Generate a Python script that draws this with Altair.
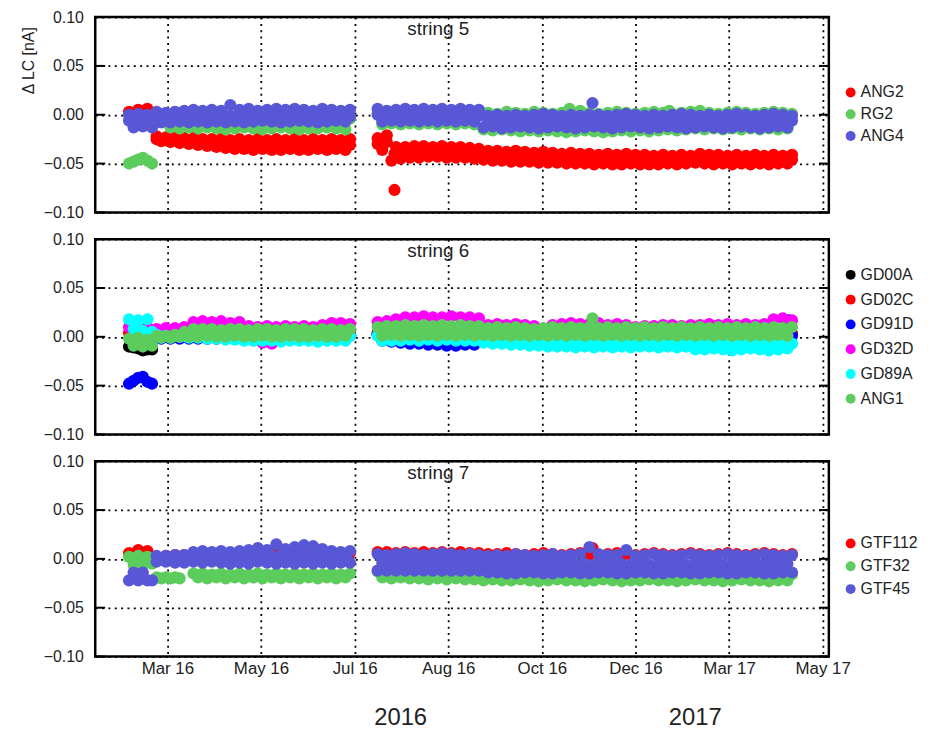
import altair as alt
import pandas as pd

FONT = "Liberation Sans"
TXT = "#222222"

# ---------------- axes ----------------
TICK_DAYS = [0, 61, 122, 183, 244, 305, 366, 427]          # days since 1 Mar 2016
TICK_LABELS = ["Mar 16", "May 16", "Jul 16", "Aug 16", "Oct 16", "Dec 16", "Mar 17", "May 17"]
X_DOMAIN = [-47, 431]
Y_TICKS = [-0.10, -0.05, 0.00, 0.05, 0.10]
Y_TITLE = "Δ LC [nA]"
YEAR_LABELS = ["2016", "2017"]
YEAR_DAYS = [152, 344]

# ---------------- sampling days (two staggered rows) ----------------
D_HI_A = [-25, -19, -13, -7, -1, 5, 11, 17, 23, 29, 35, 41, 47, 53, 59, 65, 71, 77, 83, 89, 95, 101, 107, 113, 119]
D_HI_B = [137, 143, 149, 155, 161, 167, 173, 179, 185, 191, 197, 203, 209, 215, 221, 227, 233, 239, 245, 251,
          257, 263, 269, 275, 281, 287, 293, 299, 305, 311, 317, 323, 329, 335, 341, 347, 353, 359, 365, 371,
          377, 383, 389, 395, 401, 407]
D_LO_A = [-22, -16, -10, -4, 2, 8, 14, 20, 26, 32, 38, 44, 50, 56, 62, 68, 74, 80, 86, 92, 98, 104, 110, 116]
D_LO_B = [140, 146, 152, 158, 164, 170, 176, 182, 188, 194, 200, 206, 212, 218, 224, 230, 236, 242, 248, 254,
          260, 266, 272, 278, 284, 290, 296, 302, 308, 314, 320, 326, 332, 338, 344, 350, 356, 362, 368, 374,
          380, 386, 392, 398, 404]

# ---------------- string 5 (values in 1e-3 nA) ----------------
S5_NAMES = ["ANG2", "RG2", "ANG4"]
S5_COLORS = ["#ff0000", "#5ccc5c", "#5858d6"]

ANG2_HI_A = [3, 5, 6, -22, -23, -23, -24, -24, -25, -25, -25, -26, -25, -26, -25, -26, -25, -26, -25, -26,
             -25, -26, -25, -26, -25]
ANG2_HI_B = [-24, -21, -33, -33, -32, -32, -33, -32, -33, -33, -34, -35,
             -37, -37, -38, -37, -38, -39, -38, -39, -40, -39,
             -40, -40, -41, -40, -41, -40, -41, -41, -42, -41,
             -42, -41, -42, -40, -41, -41, -42, -41, -42, -41,
             -42, -41, -42, -41]
ANG2_MID_A = [None, None, None, -25, -26, -26, -27, -28, -29, -30, -30, -31, -31, -31, -31, -31, -31, -31, -31, -31,
              -31, -31, -31, -31, -31]
ANG2_MID_B = [-30, -28, -40, -38, -38, -38, -38, -38, -38, -39, -39, -40,
              -42, -42, -43, -43, -43, -44, -44, -44, -45, -45,
              -45, -46, -45, -46, -45, -46, -45, -46, -45, -46,
              -45, -46, -45, -46, -45, -46, -45, -46, -45, -46,
              -45, -46, -45, -46]
ANG2_LO_A = [0, 4, -2, -27, -28, -29, -30, -31, -32, -33, -34, -35, -35, -36, -35, -36, -36, -35, -36, -36,
             -35, -36, -35, -36]
ANG2_LO_B = [-36, -47, -45, -44, -44, -43, -43, -44, -44, -44, -45,
             -46, -47, -47, -48, -48, -48, -49, -49, -49, -50,
             -50, -50, -51, -50, -51, -51, -50, -51, -51, -51,
             -50, -51, -50, -49, -50, -51, -50, -51, -50, -51,
             -50, -51, -50, -50]
ANG2_EX_D = [148, 148]
ANG2_EX_V = [-40, -77]

RG2_HI_A = [-50, -46, -47, -5, -4, -5, -4, -5, -4, -5, -4, -5, -4, -5, -4, -5, -4, -5, -4, -5,
            -4, -5, -4, -5, -4]
RG2_HI_B = [1, 0, 1, 0, 1, 0, 1, 0, 1, 0, 1, 0,
            2, 1, 3, 2, 1, 3, 2, 1, 2, 3,
            4, 2, 1, 2, 3, 2, 1, 2, 3, 2,
            1, 2, 3, 4, 2, 1, 2, 3, 2, 1,
            2, 3, 2, 1]
RG2_LO_A = [-48, -44, -50, None, -13, -14, -13, -14, -13, -14, -15, -14, -13, -14, -15, -14, -13, -14, -15, -14,
            -14, -13, -14, -15]
RG2_LO_B = [-10, -9, -10, -9, -10, -9, -10, -9, -10, -9, -10,
            -15, -16, -15, -16, -17, -16, -17, -16, -17, -18,
            -17, -16, -17, -18, -17, -16, -17, -16, -17, -16,
            -15, -16, -15, -14, -15, -14, -15, -14, -15, -14,
            -15, -14, -15, -14]
RG2_EX_D = [262, 327]
RG2_EX_V = [6, 4]

ANG4_HI_A = [0, 1, 0, 3, 2, 3, 4, 5, 4, 5, 4, 10, 5, 6, 4, 5, 6, 5, 6, 5, 4, 6, 5, 4, 5]
ANG4_HI_B = [6, 4, 5, 6, 5, 6, 5, 6, 5, 6, 5, 5,
             -1, 0, -1, 0, -1, 0, 1, 0, -1, 0,
             -1, 0, 0, -1, 0, 1, 0, -1, 0, -1,
             0, 1, 0, -1, 0, -1, 0, 1, 0, -1,
             0, 1, 0, -1]
ANG4_MID_A = [-6, -6, -7, -2, -2, -1, -2, -1, -2, -1, -2, -1, -2, -1, -2, -1, -2, -1, -2, -1,
              -2, -1, -2, -1, -2]
ANG4_MID_B = [0, -1, 0, -1, 0, -1, 0, -1, 0, -1, 0, -1,
              -7, -6, -7, -6, -7, -6, -7, -6, -7, -6,
              -7, -6, -7, -6, -7, -6, -7, -6, -7, -6,
              -7, -6, -7, -6, -7, -6, -7, -6, -7, -6,
              -7, -6, -7, -6]
ANG4_LO_A = [-13, -12, -13, -8, -8, -7, -8, -7, -8, -7, -8, -7, -8, -7, -6, -7, -8, -7, -6, -7,
             -8, -7, -6, -7]
ANG4_LO_B = [-7, -6, -7, -6, -7, -6, -7, -6, -7, -6, -7,
             -13, -12, -14, -13, -12, -13, -14, -13, -12, -13,
             -14, -13, -12, -13, -14, -13, -12, -13, -14, -13,
             -12, -13, -14, -13, -12, -13, -14, -13, -12, -13,
             -14, -13, -12, -13]
ANG4_EX_D = [277]
ANG4_EX_V = [12]

# ---------------- string 6 ----------------
S6_NAMES = ["GD00A", "GD02C", "GD91D", "GD32D", "GD89A", "ANG1"]
S6_COLORS = ["#000000", "#ff0000", "#0000ff", "#ff00ff", "#00ffff", "#5ccc5c"]

GD00A_HI_A = [-10, -12, -13, 1, 2, 2, 3, 2, 3, 2, 3, 2, 3, 2, 3, 2, 3, 2, 3, 2, 3, 2, 3, 2, 3]
GD00A_HI_B = [3, 2, 3, 2, 3, 2, 3, 2, 3, 2, 3, 2, 2, 3, 2, 3, 2, 3, 2, 3, 2, 3, 2, 3, 2, 3, 2, 3, 2, 3,
              2, 3, 2, 3, 2, 3, 2, 3, 2, 3, 2, 3, 2, 3, 2, 3]
GD00A_LO_A = [-11, -14, -13]

GD02C_HI_A = [4, 5, 4, 3, 3, 3, 4, 3, 4, 3, 4, 3, 4, 3, 4, 3, 4, 3, 4, 3, 4, 3, 4, 3, 4]
GD02C_HI_B = [4, 3, 4, 3, 4, 3, 4, 3, 4, 3, 4, 3, 4, 3, 4, 3, 4, 3, 4, 3, 4, 3, 4, 3, 4, 3, 4, 3, 4, 3,
              4, 3, 4, 3, 4, 3, 4, 3, 4, 3, 4, 3, 4, 3, 4, 3]

GD91D_HI_A = [-48, -42, -46, 0, 0, 0, 1, 0, 1, 0, 1, 0, 1, 0, 1, 0, 1, 0, 1, 0, 1, 0, 1, 0, 1]
GD91D_HI_B = [2, 1, 2, 1, 2, 1, 2, 1, 2, 1, 2, 1, 2, 1, 2, 1, 2, 1, 2, 1, 2, 1, 2, 1, 2, 1, 2, 1, 2, 1,
              2, 1, 2, 1, 2, 1, 2, 1, 2, 1, 2, 1, 2, 1, 2, 1]
GD91D_LO_A = [-45, -41, -48, -2, -2, -2, -2, -2, -2, -2, -2, -2, -2, -2, -2, -2, -2, -2, -2, -2,
              -2, -2, -2, -2]
GD91D_LO_B = [-4, -5, -6, -7, -7, -8, -8, -9, -9, -8, -8,
              -3, -2, -3, -2, -3, -2, -3, -2, -3, -2, -3, -2, -3, -2, -3, -2, -3, -2, -3, -2,
              -3, -2, -3, -2, -3, -2, -3, -2, -3, -2, -3, -2, -3, -2]
GD91D_EX_D = [405]
GD91D_EX_V = [17]

GD32D_HI_A = [10, 12, 10, 8, 9, 9, 10, 15, 16, 15, 16, 14, 15, 11, 10, 11, 10, 11, 10, 11,
              10, 12, 14, 14, 13]
GD32D_HI_B = [15, 16, 18, 20, 20, 21, 20, 20, 21, 20, 20, 19,
              12, 13, 12, 13, 12, 11, 8, 12, 13, 14,
              13, 13, 14, 12, 13, 12, 10, 11, 11, 12,
              12, 11, 12, 12, 13, 12, 13, 12, 13, 12,
              13, 18, 19, 17]
GD32D_LO_A = [4, 4, 4, 0, 0, 0, 0, 0, 0, 0, 0, 0, 0, 0, -6, -7, 0, 0, 0, 0, 0, 0, 0, 0]
GD32D_LO_B = [1, 2, 1, 2, 1, 2, 1, 2, 1, 2, 1, 2, 1, 2, 1, 2, 1, 2, 1, 2, 1, 2, 1, 2, 1, 2, 1, 2, 1, 2,
              1, 2, 1, 2, 1, 2, 1, 2, 1, 2, 1, 2, 1, 2, 1]

GD89A_HI_A = [18, 17, 18, 2, 1, 1, 1, 1, 1, 1, 1, 1, 1, 1, 1, 1, 1, 1, 1, 1, 1, 1, 1, 1, 1]
GD89A_HI_B = [1, 1, 1, 1, 1, 1, 1, 1, 1, 1, 1, 1,
              -3, -3, -4, -4, -4, -5, -5, -5, -5, -5,
              -5, -5, -5, -5, -5, -5, -5, -5, -5, -5,
              -5, -5, -7, -7, -7, -7, -7, -7, -7, -7,
              -7, -7, -7, -7]
GD89A_LO_A = [8, 6, 5, -1, -1, 0, -1, -1, -2, -2, -3, -3, -4, -4, -4, -4, -5, -4, -4, -4,
              -5, -4, -4, -4]
GD89A_LO_B = [-4, -4, -4, -3, -4, -3, -4, -3, -4, -4, -4,
              -6, -7, -7, -8, -8, -9, -9, -10, -10, -10,
              -11, -10, -11, -10, -11, -10, -11, -10, -10, -11,
              -10, -11, -10, -13, -13, -12, -13, -14, -13, -12,
              -13, -14, -13, -12]

ANG1_HI_A = [-2, -1, -3, 1, 1, 2, 5, 8, 8, 8, 7, 8, 8, 7, 8, 8, 7, 8, 8, 8, 7, 8, 8, 7, 8]
ANG1_HI_B = [10, 11, 11, 12, 11, 12, 11, 12, 11, 12, 11, 11,
             9, 10, 9, 10, 9, 8, 9, 10, 9, 10,
             9, 10, 9, 10, 9, 10, 9, 10, 9, 10,
             9, 10, 9, 10, 9, 10, 9, 10, 9, 10,
             9, 10, 9, 10]
ANG1_LO_A = [-9, -10, -9, -1, -1, 0, 0, 0, 1, 0, 0, 1, 0, 0, 1, 0, 0, 1, 0, 0, 1, 0, 0, 1]
ANG1_LO_B = [1, 2, 1, 2, 1, 2, 1, 2, 1, 2, 1,
             2, 1, 2, 1, 2, 1, 2, 1, 2, 1,
             2, 1, 2, 1, 2, 1, 2, 1, 2, 1,
             2, 1, 2, 1, 2, 1, 2, 1, 2, 1,
             2, 1, 2, 1]
ANG1_EX_D = [277]
ANG1_EX_V = [19]

# ---------------- string 7 ----------------
S7_NAMES = ["GTF112", "GTF32", "GTF45"]
S7_COLORS = ["#ff0000", "#5ccc5c", "#5858d6"]

GTF112_HI_A = [6, 9, 8, 2, 3, 4, 4, 6, 5, 5, 6, 5, 6, 5, 6, 5, 6, 5, 6, 5, 6, 5, 6, 5, 6]
GTF112_HI_B = [7, 7, 6, 7, 6, 7, 6, 7, 6, 7, 6, 6,
               5, 5, 6, 5, 4, 5, 6, 5, 4, 5,
               6, 5, 4, 5, 6, 5, 4, 5, 6, 5,
               4, 5, 6, 5, 4, 5, 6, 5, 4, 5,
               6, 5, 4, 5]
GTF112_LO_A = [4, 5, 2]
GTF112_EX_D = [277]
GTF112_EX_V = [11]

GTF32_HI_A = [2, 3, 2, -19, -19, -19, None, -15, -15, -16, -15, -16, -15, -16, -15, -16, -15, -16, -15, -16,
              -15, -16, -15, -16, -15]
GTF32_HI_B = [-13, -13, -13, -13, -13, -13, -13, -13, -13, -13, -13, -13,
              -15, -16, -15, -16, -15, -16, -15, -16, -15, -16,
              -15, -16, -15, -16, -15, -16, -15, -16, -15, -16,
              -15, -16, -15, -16, -15, -16, -15, -16, -15, -16,
              -15, -16, -15, -16]
GTF32_LO_A = [-6, -6, -5, -20, -20, -20, None, -19, -20, -19, -20, -19, -20, -19, -20, -19, -20, -19, -20, -19,
              -20, -19, -20, -19]
GTF32_LO_B = [-19, -20, -19, -20, -20, -21, -20, -21, -20, -21, -21,
              -22, -21, -22, -22, -21, -22, -23, -22, -21, -22,
              -22, -23, -22, -21, -22, -23, -22, -22, -21, -22,
              -22, -23, -22, -21, -22, -22, -23, -22, -21, -22,
              -22, -23, -22, -22]

GTF45_HI_A = [-22, -22, -22, 3, 3, 4, 4, 7, 8, 7, 8, 7, 8, 9, 11, 9, 15, 10, 12, 14, 13, 10, 8, 7, 8]
GTF45_MID_A = [-14, -14, -22, 0, 0, 1, 1, 2, 2, 1, 2, 1, 2, 3, 2, 3, 4, 3, 4, 3, 4, 3, 2, 2]
GTF45_LO_A = [None, None, None, -3, -3, -4, -4, -3, -4, -3, -4, -5, -4, -5, -3, -4, -5, -4, -5, -4,
              -5, -4, -5, -4, -4]
GTF45_HI_B = [5, 4, 5, 6, 5, 4, 5, 6, 5, 4, 5, 4,
              3, 4, 3, 5, 4, 3, 4, 5, 3, 4,
              5, 12, 5, 4, 4, 9, 3, 4, 5, 4,
              3, 4, 5, 4, 3, 4, 5, 4, 3, 4,
              5, 4, 3, 4]
GTF45_MID_B = [-4, -4, -4, -4, -4, -4, -4, -4, -4, -4, -4,
               -6, -5, -6, -5, -6, -5, -6, -5, -6, -5,
               -6, -5, -6, -5, -6, -5, -6, -5, -6, -5,
               -6, -5, -6, -5, -6, -5, -6, -5, -6, -5,
               -6, -5, -6, -5]
GTF45_LO_B = [-12, -12, -12, -12, -12, -12, -12, -12, -12, -12, -12, -12,
              -14, -14, -15, -15, -14, -14, -15, -15, -14, -14,
              -15, -15, -14, -14, -15, -15, -14, -14, -15, -15,
              -14, -14, -15, -15, -14, -14, -15, -15, -14, -14,
              -15, -15, -14, -14]


def collect(name, z, parts):
    out = []
    for days, vals in parts:
        for d, v in zip(days, vals):
            if v is not None:
                out.append({"series": name, "z": z, "day": d, "v": v / 1000.0})
    return out


rows5 = (collect("ANG2", 0, [(D_HI_A, ANG2_HI_A), (D_HI_B, ANG2_HI_B), (D_HI_A, ANG2_MID_A),
                             (D_HI_B, ANG2_MID_B), (D_LO_A, ANG2_LO_A), (D_LO_B, ANG2_LO_B),
                             (ANG2_EX_D, ANG2_EX_V)])
         + collect("RG2", 1, [(D_HI_A, RG2_HI_A), (D_HI_B, RG2_HI_B), (D_LO_A, RG2_LO_A),
                              (D_LO_B, RG2_LO_B), (RG2_EX_D, RG2_EX_V)])
         + collect("ANG4", 2, [(D_HI_A, ANG4_HI_A), (D_HI_B, ANG4_HI_B), (D_HI_A, ANG4_MID_A),
                               (D_HI_B, ANG4_MID_B), (D_LO_A, ANG4_LO_A), (D_LO_B, ANG4_LO_B),
                               (ANG4_EX_D, ANG4_EX_V)]))

rows6 = (collect("GD00A", 0, [(D_HI_A, GD00A_HI_A), (D_HI_B, GD00A_HI_B), (D_LO_A, GD00A_LO_A)])
         + collect("GD02C", 1, [(D_HI_A, GD02C_HI_A), (D_HI_B, GD02C_HI_B)])
         + collect("GD91D", 2, [(D_HI_A, GD91D_HI_A), (D_HI_B, GD91D_HI_B), (D_LO_A, GD91D_LO_A),
                                (D_LO_B, GD91D_LO_B), (GD91D_EX_D, GD91D_EX_V)])
         + collect("GD32D", 3, [(D_HI_A, GD32D_HI_A), (D_HI_B, GD32D_HI_B), (D_LO_A, GD32D_LO_A),
                                (D_LO_B, GD32D_LO_B)])
         + collect("GD89A", 4, [(D_HI_A, GD89A_HI_A), (D_HI_B, GD89A_HI_B), (D_LO_A, GD89A_LO_A),
                                (D_LO_B, GD89A_LO_B)])
         + collect("ANG1", 5, [(D_HI_A, ANG1_HI_A), (D_HI_B, ANG1_HI_B), (D_LO_A, ANG1_LO_A),
                               (D_LO_B, ANG1_LO_B), (ANG1_EX_D, ANG1_EX_V)]))

rows7 = (collect("GTF112", 0, [(D_HI_A, GTF112_HI_A), (D_HI_B, GTF112_HI_B), (D_LO_A, GTF112_LO_A),
                               (GTF112_EX_D, GTF112_EX_V)])
         + collect("GTF32", 1, [(D_HI_A, GTF32_HI_A), (D_HI_B, GTF32_HI_B), (D_LO_A, GTF32_LO_A),
                                (D_LO_B, GTF32_LO_B)])
         + collect("GTF45", 2, [(D_HI_A, GTF45_HI_A), (D_HI_B, GTF45_HI_B), (D_LO_A, GTF45_MID_A),
                                (D_LO_B, GTF45_MID_B), (D_HI_A, GTF45_LO_A), (D_HI_B, GTF45_LO_B)]))

LABEL_EXPR = " : ".join(f"datum.value == {d} ? '{t}'" for d, t in zip(TICK_DAYS, TICK_LABELS)) + " : ''"

W, H = 740, 197
PT = 150
TL = 10


def panel(rows, names, colors, title, legend_y, row_pad, first=False, last=False):
    df = pd.DataFrame(rows)
    xa = dict(values=TICK_DAYS, labelExpr=LABEL_EXPR, labels=last, title=None, grid=True, ticks=False,
              domain=False, labelFontSize=17, labelPadding=4, labelFont=FONT, labelColor=TXT)
    ya = dict(values=Y_TICKS, format=".2f", grid=True, ticks=False, domain=False, labelFontSize=16,
              labelPadding=12, labelFont=FONT, labelColor=TXT, title=None)
    xscale = alt.Scale(domain=X_DOMAIN, nice=False, zero=False)
    yscale = alt.Scale(domain=[-0.1, 0.1], nice=False, zero=False)
    pts = alt.Chart(df).mark_circle(size=PT, opacity=1).encode(
        x=alt.X("day:Q", scale=xscale, axis=alt.Axis(**xa)),
        y=alt.Y("v:Q", scale=yscale, axis=alt.Axis(**ya)),
        color=alt.Color("series:N", scale=alt.Scale(domain=names, range=colors),
                        legend=alt.Legend(title=None, orient="none", legendX=754, legendY=legend_y,
                                          symbolType="circle", symbolSize=100, symbolStrokeWidth=0,
                                          labelFontSize=16, labelFont=FONT, labelColor=TXT,
                                          rowPadding=row_pad, padding=0, labelOffset=2)),
        order=alt.Order("z:Q"),
    )
    tdf = pd.DataFrame({"v": Y_TICKS})
    lt = alt.Chart(tdf).mark_rule(color="black", strokeWidth=2).encode(
        y=alt.Y("v:Q", scale=yscale, axis=alt.Axis(**ya)), x=alt.value(0), x2=alt.value(TL))
    rt = alt.Chart(tdf).mark_rule(color="black", strokeWidth=2).encode(
        y=alt.Y("v:Q", scale=yscale, axis=alt.Axis(**ya)), x=alt.value(W - TL), x2=alt.value(W))
    tt = alt.Chart(pd.DataFrame({"t": [title]})).mark_text(
        fontSize=19, font=FONT, color=TXT, baseline="alphabetic", align="center").encode(
        text="t:N", x=alt.value(W / 2 - 24), y=alt.value(18))
    layers = [pts, lt, rt, tt]
    if first:
        layers.append(alt.Chart(pd.DataFrame({"t": [Y_TITLE]})).mark_text(
            fontSize=16, font=FONT, color=TXT, baseline="middle", align="center", angle=270).encode(
            text="t:N", x=alt.value(-67), y=alt.value(44)))
    if last:
        ydf = pd.DataFrame({"label": YEAR_LABELS, "day": YEAR_DAYS})
        layers.append(alt.Chart(ydf).mark_text(fontSize=24, font=FONT, color=TXT, baseline="middle",
                                               align="center").encode(
            x=alt.X("day:Q", scale=xscale, axis=alt.Axis(**xa)), y=alt.value(H + 62), text="label:N"))
    return alt.layer(*layers).properties(width=W, height=H)


p5 = panel(rows5, S5_NAMES, S5_COLORS, "string 5", 68, 6, first=True)
p6 = panel(rows6, S6_NAMES, S6_COLORS, "string 6", 28, 9)
p7 = panel(rows7, S7_NAMES, S7_COLORS, "string 7", 75, 7, last=True)

chart = alt.vconcat(p5, p6, p7, spacing=27, bounds="flush",
                    padding={"left": 11, "top": -4, "right": 5, "bottom": 0}).resolve_scale(
    color="independent").resolve_legend(color="independent").configure_view(
    stroke="black", strokeWidth=2.5).configure_axis(
    gridColor="black", gridDash=[2, 4.4], gridWidth=1.8, gridOpacity=1)

chart.save("out.html", embed_options={"renderer": "svg", "actions": False})
